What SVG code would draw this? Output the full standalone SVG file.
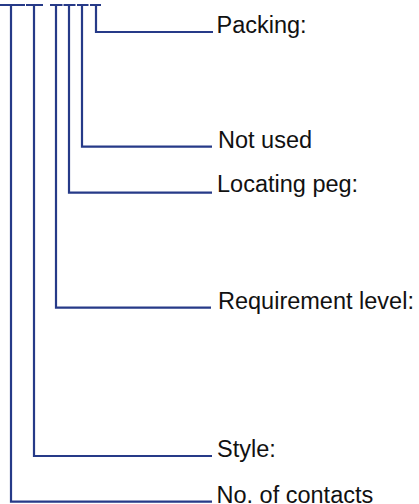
<svg xmlns="http://www.w3.org/2000/svg" width="419" height="504" viewBox="0 0 419 504">
<style>
.c{fill:none;stroke:#263a88;stroke-width:2.2}
.t{font-family:"Liberation Sans",Arial,sans-serif;font-size:23.5px;fill:#111}
</style>
<rect width="419" height="504" fill="#fff"/>
<g id="connectors">
<path class="c" d="M0 5H25M26 5H43M50 5H62.5M63.5 5H75.5M77 5H88.5M90 5H101"/>
<polyline class="c" points="96,5 96,32 213,32"/>
<polyline class="c" points="82,5 82,146.7 212,146.7"/>
<polyline class="c" points="69,5 69,192.7 212,192.7"/>
<polyline class="c" points="56,5 56,307.7 211,307.7"/>
<polyline class="c" points="34,5 34,456 212,456"/>
<polyline class="c" points="11,5 11,501.7 212,501.7"/>
</g>
<g id="packing"><text class="t" x="216.5" y="33.3">Packing:</text></g>
<g id="not-used"><text class="t" x="218" y="148.3">Not used</text></g>
<g id="locating-peg"><text class="t" x="217" y="191.7">Locating peg:</text></g>
<g id="requirement-level"><text class="t" x="218" y="309">Requirement level:</text></g>
<g id="style"><text class="t" x="217" y="456.7">Style:</text></g>
<g id="no-of-contacts"><text class="t" x="216.5" y="502.7">No. of contacts</text></g>
</svg>
